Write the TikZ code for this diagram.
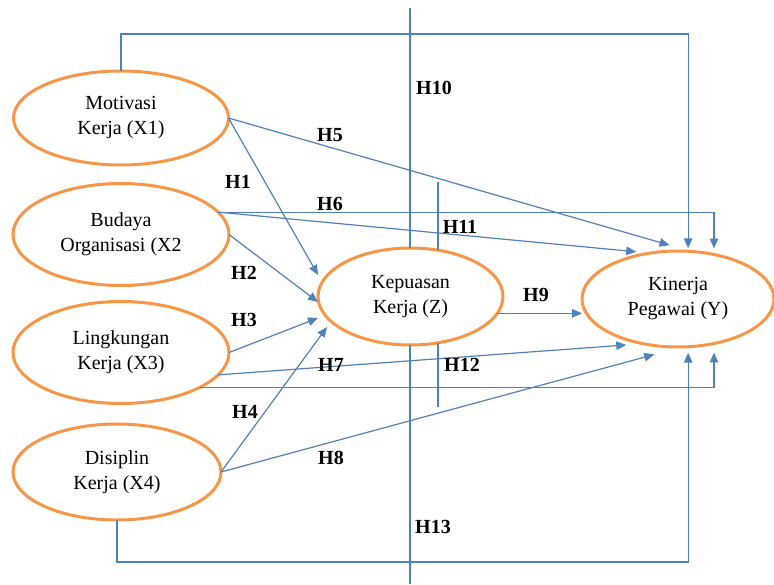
\documentclass[tikz,border=0pt]{standalone}
\usepackage{fontspec}
\setmainfont{Liberation Serif}
\usetikzlibrary{arrows.meta,shapes.geometric}
\definecolor{linkblue}{RGB}{79,129,189}
\definecolor{varorange}{RGB}{247,150,70}

\begin{document}
\begin{tikzpicture}[
    x=1pt, y=-1pt,
    font=\fontsize{20}{25}\selectfont,
    var/.style={ellipse, draw=varorange, line width=3pt, fill=white,
                align=center, inner sep=0pt, outer sep=0pt},
    link/.style={draw=linkblue, line width=1.2pt},
    arr/.style={link, -{Triangle[length=10pt,width=8.5pt]}, linkblue},
    hyp/.style={font=\fontsize{20}{24}\selectfont\bfseries, inner sep=0pt}
]
\useasboundingbox (0,0) rectangle (774,584);

% Variables
\node[var, minimum width=215, minimum height=94]  (x1) at (121,118)   {Motivasi\\Kerja (X1)};
\node[var, minimum width=216, minimum height=102] (x2) at (121,234.5) {Budaya\\Organisasi (X2};
\node[var, minimum width=216, minimum height=102] (x3) at (121,352.5) {Lingkungan\\Kerja (X3)};
\node[var, minimum width=208, minimum height=96]  (x4) at (117,472)   {Disiplin\\Kerja (X4)};
\node[var, minimum width=185, minimum height=97]  (z)  at (410.5,296.5) {Kepuasan\\Kerja (Z)};
\node[var, minimum width=192, minimum height=96]  (y)  at (678,299)   {Kinerja\\Pegawai (Y)};

% Mediation guides
\coordinate (ztop) at (410,8);
\coordinate (zbot) at (410,584);
\coordinate (mtop) at (438,182);
\coordinate (mbot) at (438,407);
\draw[link] (ztop) -- (ztop |- z.north);
\draw[link] (zbot) -- (zbot |- z.south);
\draw[link] (mtop) -- (mtop |- z.59);
\draw[link] (mbot) -- (mbot |- z.-59);

% Paths to Z
\draw[arr] (x1.east) -- ([yshift=21.5pt]z.west);
\draw[arr] (x2.east) -- ([yshift=-5.5pt]z.west);
\draw[arr] (x3.east) -- ([yshift=-21.5pt]z.west);
\draw[arr] (x4.east) -- ([xshift=9pt,yshift=-30.5pt]z.west);

% Paths to Y
\draw[arr] (x1.north) -- ++(0,-37) -| ([yshift=3pt]y.78);
\draw[arr] (x1.east) -- ([yshift=6pt]y.100);
\draw[arr] (x2.13) -| ([yshift=6pt]y.51);
\draw[arr] (x2.13) -- ([yshift=4pt]y.134);
\draw[arr] (z.-11) -- (z.-11 -| y.west);
\draw[arr] (x3.-13) -- ([yshift=-5.5pt]y.218);
\draw[arr] (x3.-24) -| ([yshift=-9pt]y.-51);
\draw[arr] (x4.east) -- ([yshift=-9pt]y.243);
\draw[arr] (x4.south) -- ++(0,42) -| ([yshift=-6pt]y.-78);

% Hypotheses
\node[hyp] (h1)  at (238,182) {H1};
\node[hyp] (h2)  at (244,273) {H2};
\node[hyp] (h3)  at (244,320) {H3};
\node[hyp] (h4)  at (245,412) {H4};
\node[hyp] (h5)  at (330,135) {H5};
\node[hyp] (h6)  at (330,204) {H6};
\node[hyp] (h7)  at (331,365) {H7};
\node[hyp] (h8)  at (331,458) {H8};
\node[hyp] (h9)  at (536,295) {H9};
\node[hyp] (h10) at (434,88)  {H10};
\node[hyp] (h11) at (460,227) {H11};
\node[hyp] (h12) at (462,365) {H12};
\node[hyp] (h13) at (433,527) {H13};

\end{tikzpicture}
\end{document}
